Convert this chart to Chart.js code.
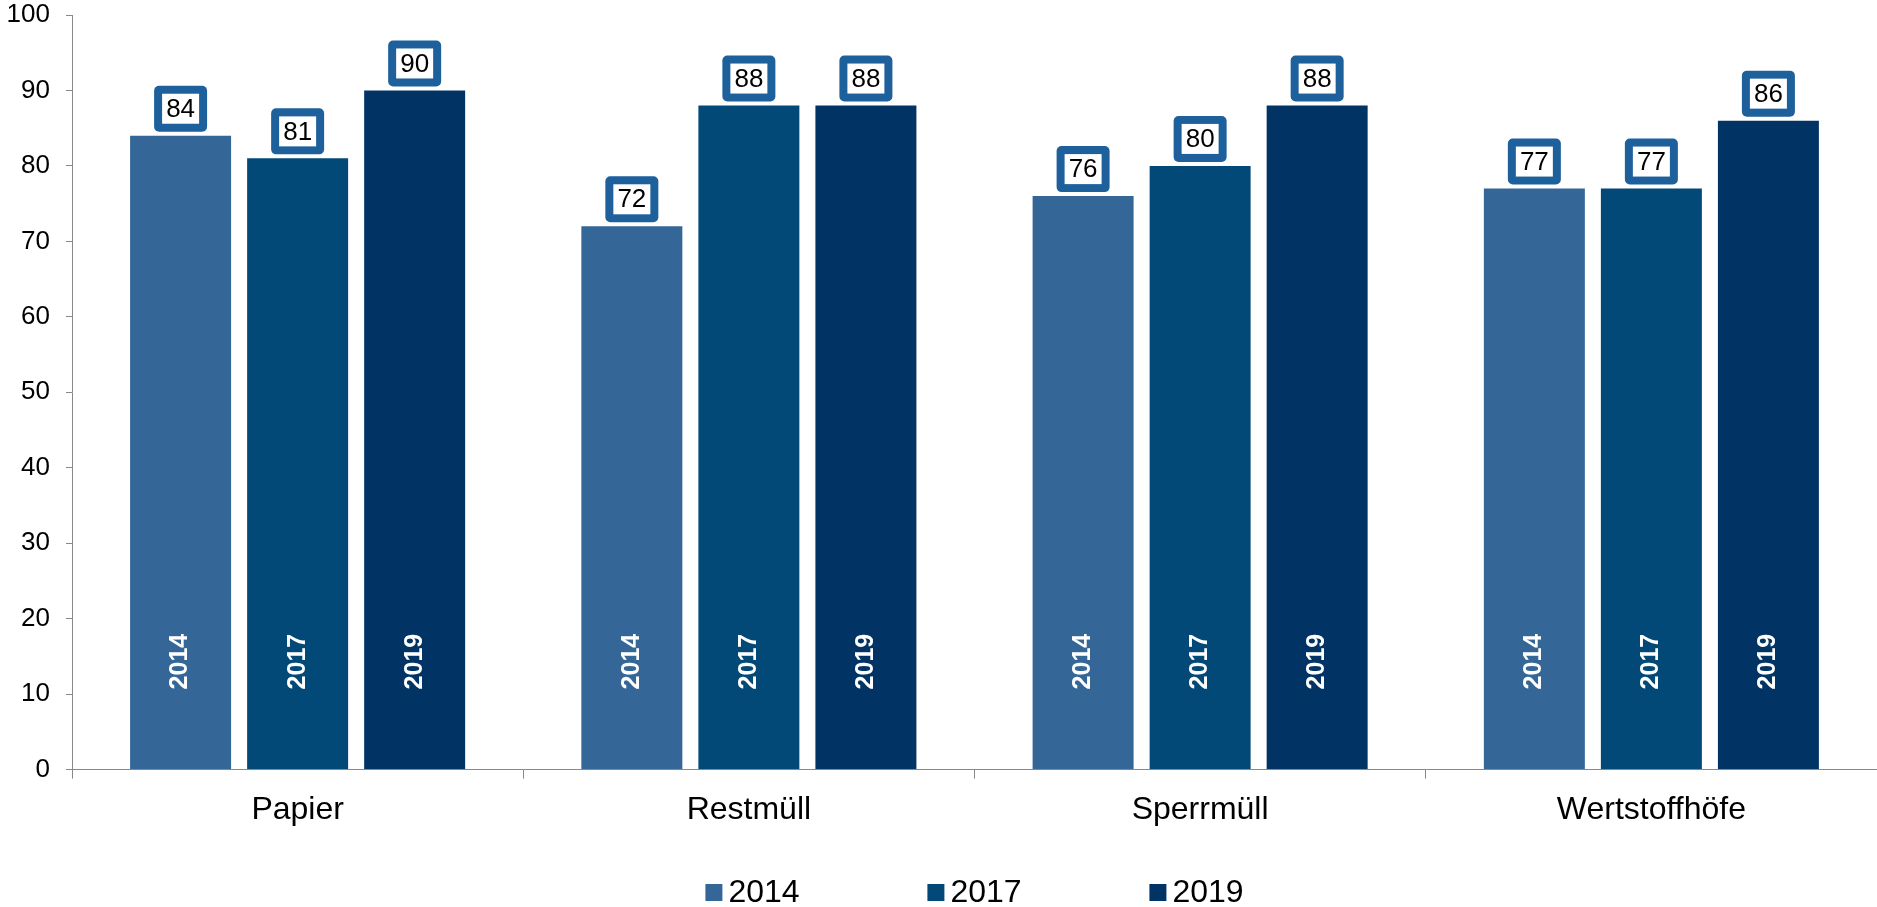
<!DOCTYPE html>
<html>
<head>
<meta charset="utf-8">
<script src="https://cdn.jsdelivr.net/npm/chart.js@4.4.1/dist/chart.umd.min.js"></script>
<style>
  html, body { margin: 0; padding: 0; background: #fff; }
  #wrap { width: 1877px; height: 907px; position: relative; }
</style>
</head>
<body>
<div id="wrap"><canvas id="myChart"></canvas></div>
<script>
'use strict';

let categories = ['Papier', 'Restmüll', 'Sperrmüll', 'Wertstoffhöfe'];
let years = ['2014', '2017', '2019'];
let values2014 = [84, 72, 76, 77];
let values2017 = [81, 88, 80, 77];
let values2019 = [90, 88, 88, 86];
let yMin = 0;
let yMax = 100;
let yStep = 10;

let barColors = ['#346798', '#024977', '#013465'];
let boxColor = '#1e609c';
let axisColor = '#888888';
let fontName = '"Liberation Sans", Arial, Helvetica, sans-serif';

// value boxes above each bar + rotated year text inside the bars
let barLabels = {
    id: 'barLabels',
    afterDatasetsDraw(chart) {
        let ctx = chart.ctx;
        let base = chart.scales.y.getPixelForValue(yMin);
        chart.data.datasets.forEach((ds, i) => {
            let meta = chart.getDatasetMeta(i);
            meta.data.forEach((bar, j) => {
                let w = 53, h = 46, bw = 8;
                let bx = bar.x - w / 2;
                let by = bar.y - 4 - h;
                ctx.save();
                ctx.fillStyle = boxColor;
                ctx.beginPath();
                ctx.roundRect(bx, by, w, h, 5);
                ctx.fill();
                ctx.fillStyle = '#ffffff';
                ctx.fillRect(bx + bw, by + bw, w - 2 * bw, h - 2 * bw);
                ctx.fillStyle = '#000000';
                ctx.font = '26px ' + fontName;
                ctx.textAlign = 'center';
                ctx.textBaseline = 'middle';
                ctx.fillText(String(ds.data[j]), bar.x, by + h / 2 + 1);

                ctx.translate(bar.x, base - 108);
                ctx.rotate(-Math.PI / 2);
                ctx.fillStyle = '#ffffff';
                ctx.font = 'bold 25px ' + fontName;
                ctx.fillText(ds.label, 0, 0);
                ctx.restore();
            });
        });
    }
};

// legend row at the bottom, small squares with the year next to them
let bottomLegend = {
    id: 'bottomLegend',
    afterDraw(chart) {
        let ctx = chart.ctx;
        let area = chart.chartArea;
        let box = 17, gap = 6, pitch = 222;
        ctx.save();
        ctx.font = '32px ' + fontName;
        let lastW = ctx.measureText(chart.data.datasets[chart.data.datasets.length - 1].label).width;
        let rowW = pitch * (chart.data.datasets.length - 1) + box + gap + lastW;
        let x = (area.left + area.right) / 2 - rowW / 2;
        let yc = 892.5;
        chart.data.datasets.forEach((ds) => {
            ctx.fillStyle = ds.backgroundColor;
            ctx.fillRect(x, yc - box / 2, box, box);
            ctx.fillStyle = '#000000';
            ctx.textAlign = 'left';
            ctx.textBaseline = 'middle';
            ctx.fillText(ds.label, x + box + gap, yc + 1);
            x += pitch;
        });
        ctx.restore();
    }
};

let chartEl = document.getElementById('myChart').getContext('2d');
let myChart = new Chart(chartEl, {
    type: 'bar',
    data: {
        labels: categories,
        datasets: [{
            label: years[0],
            data: values2014,
            backgroundColor: barColors[0]
        }, {
            label: years[1],
            data: values2017,
            backgroundColor: barColors[1]
        }, {
            label: years[2],
            data: values2019,
            backgroundColor: barColors[2]
        }]
    },
    options: {
        responsive: true,
        maintainAspectRatio: false,
        animation: false,
        categoryPercentage: 0.778,
        barPercentage: 0.863,
        layout: {
            padding: { top: 0, right: 0, bottom: 66, left: 0 }
        },
        plugins: {
            legend: { display: false },
            tooltip: { enabled: false }
        },
        scales: {
            x: {
                grid: {
                    display: true,
                    drawOnChartArea: false,
                    drawTicks: true,
                    tickLength: 9,
                    color: axisColor,
                    offset: true
                },
                border: { display: true, color: axisColor, width: 1 },
                ticks: {
                    color: '#000000',
                    padding: 12,
                    font: { family: fontName, size: 32 }
                }
            },
            y: {
                min: yMin,
                max: yMax,
                afterFit(scale) {
                    scale.width = 72;
                    scale.paddingTop = 15;
                    scale.paddingBottom = 15;
                },
                grid: {
                    display: true,
                    drawOnChartArea: false,
                    drawTicks: true,
                    tickLength: 6,
                    color: axisColor
                },
                border: { display: true, color: axisColor, width: 1 },
                ticks: {
                    stepSize: yStep,
                    color: '#000000',
                    padding: 16,
                    font: { family: fontName, size: 26 }
                }
            }
        }
    },
    plugins: [barLabels, bottomLegend]
});
</script>
</body>
</html>
